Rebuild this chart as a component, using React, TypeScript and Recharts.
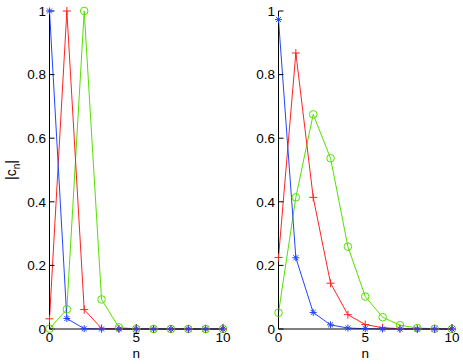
import React from 'react';
import { LineChart, Line, XAxis, YAxis } from 'recharts';

const nValues = [0, 1, 2, 3, 4, 5, 6, 7, 8, 9, 10];
const xTicks = [0, 5, 10];
const yTicks = [0, 0.2, 0.4, 0.6, 0.8, 1];

const leftBlue = [1, 0.033, 0.001, 0, 0, 0, 0, 0, 0, 0, 0];
const leftRed = [0.032, 1, 0.061, 0.002, 0, 0, 0, 0, 0, 0, 0];
const leftGreen = [0.001, 0.062, 1, 0.093, 0.005, 0, 0, 0, 0, 0, 0];

const rightBlue = [0.973, 0.224, 0.052, 0.013, 0.003, 0.001, 0, 0, 0, 0, 0];
const rightRed = [0.225, 0.868, 0.414, 0.144, 0.045, 0.014, 0.004, 0.001, 0, 0, 0];
const rightGreen = [0.051, 0.414, 0.675, 0.537, 0.259, 0.102, 0.037, 0.012, 0.003, 0.001, 0];

const BLUE = '#2244ff';
const RED = '#ff2222';
const GREEN = '#55e000';
const FONT = 'Liberation Sans, Arial, sans-serif';
const FS = 13.5;

const buildRows = (b: number[], r: number[], g: number[]) =>
  nValues.map((n, i) => ({ n, b: b[i], r: r[i], g: g[i] }));

const Star = (props: any) => {
  const { cx, cy } = props;
  if (cx == null || cy == null) return null;
  const s = 3.5;
  const d = s * 0.72;
  return (
    <g stroke={BLUE} strokeWidth={1}>
      <line x1={cx - s} y1={cy} x2={cx + s} y2={cy} />
      <line x1={cx} y1={cy - s} x2={cx} y2={cy + s} />
      <line x1={cx - d} y1={cy - d} x2={cx + d} y2={cy + d} />
      <line x1={cx - d} y1={cy + d} x2={cx + d} y2={cy - d} />
    </g>
  );
};

const Plus = (props: any) => {
  const { cx, cy } = props;
  if (cx == null || cy == null) return null;
  const s = 4;
  return (
    <g stroke={RED} strokeWidth={1}>
      <line x1={cx - s} y1={cy} x2={cx + s} y2={cy} />
      <line x1={cx} y1={cy - s} x2={cx} y2={cy + s} />
    </g>
  );
};

const Circ = (props: any) => {
  const { cx, cy } = props;
  if (cx == null || cy == null) return null;
  return <circle cx={cx} cy={cy} r={3.8} fill="none" stroke={GREEN} strokeWidth={1} />;
};

const yFmt = (v: number) => (v === 0 ? '0' : v === 1 ? '1' : v.toFixed(1));

const YLabel = () => (
  <text transform="translate(16,170) rotate(-90)" fontFamily={FONT} fontSize={14} fill="#000" textAnchor="middle">
    |c<tspan dy={4} fontSize={10}>n</tspan>
    <tspan dy={-4}>|</tspan>
  </text>
);

const Panel = ({ rows, left, mLeft, mRight, showYLabel }: any) => (
  <div style={{ position: 'absolute', left, top: 0 }}>
    <LineChart
      width={231}
      height={364}
      data={rows}
      margin={{ top: 11, right: mRight, bottom: 5, left: mLeft }}
    >
      <XAxis
        xAxisId="b"
        dataKey="n"
        type="number"
        domain={[0, 10]}
        ticks={xTicks}
        height={30}
        tickSize={-5}
        tickMargin={8.5}
        stroke="#000"
        tick={{ fill: '#000', fontSize: FS, fontFamily: FONT }}
        label={{ value: 'n', position: 'insideBottom', offset: 1, fill: '#000', fontSize: FS, fontFamily: FONT }}
      />
      <XAxis
        xAxisId="t"
        dataKey="n"
        type="number"
        orientation="top"
        domain={[0, 10]}
        ticks={xTicks}
        height={0}
        tickSize={-5}
        tick={false}
        stroke="#000"
      />
      <YAxis
        yAxisId="l"
        type="number"
        domain={[0, 1]}
        ticks={yTicks}
        width={45}
        tickSize={-5}
        tickMargin={8.5}
        tickFormatter={yFmt}
        stroke="#000"
        tick={{ fill: '#000', fontSize: FS, fontFamily: FONT }}
        label={showYLabel ? { content: () => <YLabel /> } : undefined}
      />
      <YAxis
        yAxisId="r"
        orientation="right"
        type="number"
        domain={[0, 1]}
        ticks={yTicks}
        width={0}
        tickSize={-5}
        tick={false}
        stroke="#000"
      />
      <Line xAxisId="b" yAxisId="l" dataKey="g" stroke={GREEN} strokeWidth={1} dot={<Circ />} isAnimationActive={false} />
      <Line xAxisId="b" yAxisId="l" dataKey="r" stroke={RED} strokeWidth={1} dot={<Plus />} isAnimationActive={false} />
      <Line xAxisId="b" yAxisId="l" dataKey="b" stroke={BLUE} strokeWidth={1} dot={<Star />} isAnimationActive={false} />
    </LineChart>
  </div>
);

export default function App() {
  return (
    <div style={{ position: 'absolute', left: 0, top: 0, width: 463, height: 364, background: '#fff' }}>
      <Panel rows={buildRows(leftBlue, leftRed, leftGreen)} left={0} mLeft={4.5} mRight={8} showYLabel />
      <Panel rows={buildRows(rightBlue, rightRed, rightGreen)} left={230} mLeft={3.5} mRight={9} showYLabel={false} />
    </div>
  );
}
